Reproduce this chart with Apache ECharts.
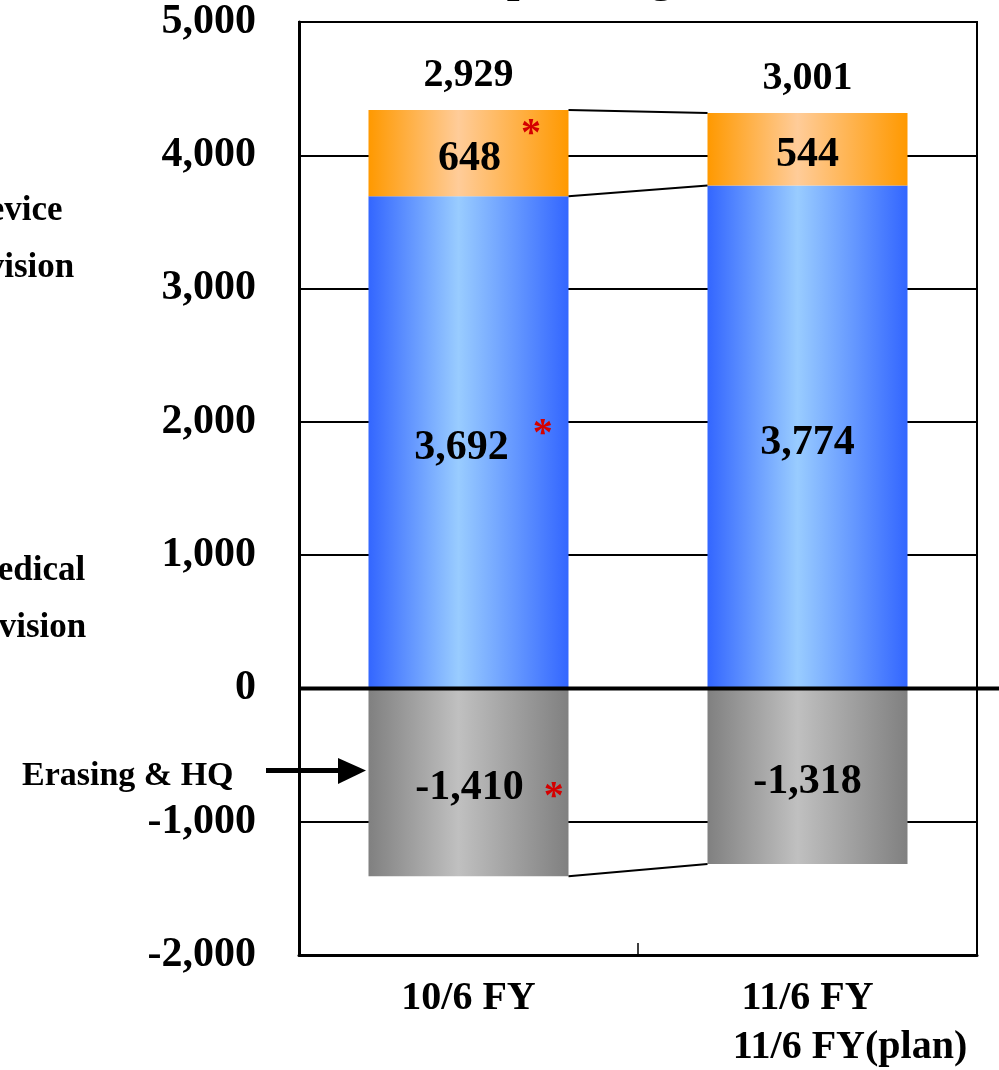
<!DOCTYPE html>
<html>
<head>
<meta charset="utf-8">
<title>Operating Income by Division</title>
<script src="https://cdn.jsdelivr.net/npm/echarts@6/dist/echarts.min.js"></script>
<style>
  html, body { margin: 0; padding: 0; background: #fff; }
  #chart { width: 999px; height: 1070px; }
</style>
</head>
<body>
<div id="chart"></div>
<script>
// ---- data ----
const categories = ['10/6 FY', '11/6 FY'];
const medicalDivision = [3692, 3774];   // blue segment
const deviceDivision = [648, 544];      // orange segment
const erasingHQ = [-1410, -1318];       // grey segment (below zero)
const totals = [2929, 3001];            // net figure shown above each column
const starred = [true, false];          // figures flagged with a red asterisk
const yMin = -2000, yMax = 5000, yStep = 1000;
const planLabel = '11/6 FY(plan)';

// ---- styling ----
const FONT = '"Liberation Serif", "Times New Roman", serif';
const BAR_RATIO = 0.59;

function fmt(v) {
  const s = String(Math.abs(v)).replace(/\B(?=(\d{3})+(?!\d))/g, ',');
  return (v < 0 ? '-' : '') + s;
}

function hGradient(edge, light) {
  return {
    type: 'linear', x: 0, y: 0, x2: 1, y2: 0,
    colorStops: [
      { offset: 0, color: edge },
      { offset: 0.45, color: light },
      { offset: 1, color: edge }
    ]
  };
}

// asterisk placement per segment: [padTop, padBottom, leftGap, numberLeftPad]
function segmentLabel(values, star) {
  return {
    show: true,
    position: 'inside',
    offset: [0, 6],
    formatter: function (p) {
      const txt = fmt(values[p.dataIndex]);
      return starred[p.dataIndex] ? '{n|' + txt + '}{s|*}' : '{v|' + txt + '}';
    },
    rich: {
      v: { fontFamily: FONT, fontWeight: 'bold', fontSize: 42, color: '#000' },
      n: { fontFamily: FONT, fontWeight: 'bold', fontSize: 42, color: '#000', padding: [0, 0, 0, star[3]] },
      s: { fontFamily: FONT, fontWeight: 'bold', fontSize: 40, color: '#d40000', padding: [star[0], 0, star[1], star[2]] }
    }
  };
}

const cumTop = deviceDivision.map((v, i) => v + medicalDivision[i]);
const connectors = [
  [0, cumTop[0], cumTop[1]],
  [0, medicalDivision[0], medicalDivision[1]],
  [0, erasingHQ[0], erasingHQ[1]]
];

const chart = echarts.init(document.getElementById('chart'), null, { renderer: 'canvas' });

const option = {
  animation: false,
  backgroundColor: '#fff',
  grid: {
    left: 299, right: 22, top: 22, bottom: 115,
    show: true, borderColor: '#000', borderWidth: 2, backgroundColor: 'transparent'
  },
  xAxis: {
    type: 'category',
    data: categories,
    axisLine: { onZero: false, lineStyle: { color: '#000', width: 3 } },
    axisTick: { show: true, inside: true, length: 12, lineStyle: { color: '#000', width: 1.5 } },
    axisLabel: {
      margin: 24, color: '#000', fontFamily: FONT, fontWeight: 'bold', fontSize: 40
    }
  },
  yAxis: {
    type: 'value',
    min: yMin, max: yMax, interval: yStep,
    axisLine: { show: true, lineStyle: { color: '#000', width: 3 } },
    axisTick: { show: false },
    splitLine: { show: true, lineStyle: { color: '#000', width: 2 } },
    axisLabel: {
      margin: 43, color: '#000', fontFamily: FONT, fontWeight: 'bold', fontSize: 42,
      formatter: fmt
    }
  },
  series: [
    {
      name: 'Medical Division', type: 'bar', stack: 'all', barWidth: (BAR_RATIO * 100) + '%',
      data: medicalDivision,
      itemStyle: { color: hGradient('#3366ff', '#99ccff') },
      label: segmentLabel(medicalDivision, [0, 28, 24, 30])
    },
    {
      name: 'Device Division', type: 'bar', stack: 'all', barWidth: (BAR_RATIO * 100) + '%',
      data: deviceDivision,
      itemStyle: { color: hGradient('#ff9900', '#ffcc99') },
      label: segmentLabel(deviceDivision, [0, 48, 20, 42])
    },
    {
      name: 'Total', type: 'bar', stack: 'all', barWidth: (BAR_RATIO * 100) + '%',
      data: totals.map(() => 0),
      itemStyle: { color: 'transparent' },
      label: {
        show: true, position: 'top', distance: 14,
        formatter: p => fmt(totals[p.dataIndex]),
        fontFamily: FONT, fontWeight: 'bold', fontSize: 40, color: '#000'
      }
    },
    {
      name: 'Erasing & HQ', type: 'bar', stack: 'all', barWidth: (BAR_RATIO * 100) + '%',
      data: erasingHQ,
      itemStyle: { color: hGradient('#808080', '#c0c0c0') },
      label: segmentLabel(erasingHQ, [18, 0, 20, 42])
    },
    {
      // thin lines joining matching segment edges of the two columns
      name: 'connectors', type: 'custom', z: 5, silent: true,
      data: connectors,
      encode: { x: 0, y: [1, 2] },
      renderItem: function (params, api) {
        const p0 = api.coord([0, api.value(1)]);
        const p1 = api.coord([1, api.value(2)]);
        const half = api.size([1, 0])[0] * BAR_RATIO / 2;
        return {
          type: 'line',
          shape: { x1: p0[0] + half, y1: p0[1], x2: p1[0] - half, y2: p1[1] },
          style: { stroke: '#000', lineWidth: 2 }
        };
      }
    },
    {
      // heavy zero baseline, running past the plot frame to the page edge
      name: 'zero', type: 'custom', z: 6, silent: true, clip: false,
      data: [[0, 0]],
      renderItem: function (params, api) {
        const y = api.coord([0, 0])[1];
        return {
          type: 'line',
          shape: { x1: params.coordSys.x, y1: y, x2: api.getWidth(), y2: y },
          style: { stroke: '#000', lineWidth: 4 }
        };
      }
    }
  ],
  graphic: [
    {
      type: 'text', left: 471, top: -44, silent: true,
      style: { text: 'Operating Income', fontFamily: FONT, fontWeight: 'bold', fontSize: 46, fill: '#000' }
    },
    {
      type: 'text', x: 13, y: 239.5, silent: true,
      style: {
        text: 'Device\nDivision', fontFamily: FONT, fontWeight: 'bold', fontSize: 35, lineHeight: 57,
        fill: '#000', align: 'center', verticalAlign: 'middle'
      }
    },
    {
      type: 'text', x: 25, y: 599.5, silent: true,
      style: {
        text: 'Medical\nDivision', fontFamily: FONT, fontWeight: 'bold', fontSize: 35, lineHeight: 57,
        fill: '#000', align: 'center', verticalAlign: 'middle'
      }
    },
    {
      type: 'text', x: 22, y: 776, silent: true,
      style: {
        text: 'Erasing & HQ', fontFamily: FONT, fontWeight: 'bold', fontSize: 34,
        fill: '#000', align: 'left', verticalAlign: 'middle'
      }
    },
    {
      type: 'rect', silent: true, z: 10,
      shape: { x: 266, y: 768, width: 74, height: 5 },
      style: { fill: '#000' }
    },
    {
      type: 'polygon', silent: true, z: 10,
      shape: { points: [[338, 758], [366, 770.5], [338, 784]] },
      style: { fill: '#000' }
    },
    {
      type: 'text', x: 850, y: 1048, silent: true,
      style: {
        text: planLabel, fontFamily: FONT, fontWeight: 'bold', fontSize: 40,
        fill: '#000', align: 'center', verticalAlign: 'middle'
      }
    }
  ]
};

chart.setOption(option);
</script>
</body>
</html>
